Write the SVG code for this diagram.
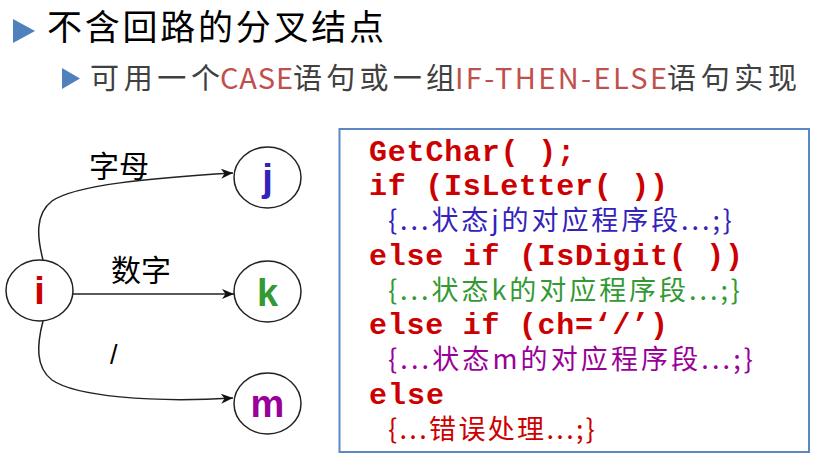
<svg xmlns="http://www.w3.org/2000/svg" width="838" height="460" viewBox="0 0 838 460">
<style>
.cjk{font-family:"Noto Sans CJK SC","Noto Sans",sans-serif}
.node ellipse{fill:#fff;stroke:#222;stroke-width:1.5}
.node text{font-family:"Liberation Sans",Arial,sans-serif;font-weight:bold;font-size:38px;text-anchor:middle}
.edge{fill:none;stroke:#222;stroke-width:1.5;marker-end:url(#arr)}
.code{font-family:"Liberation Mono","Courier New",monospace;font-weight:bold;font-size:30px;fill:#cc0000}
.cn{font-family:"Noto Sans CJK SC",sans-serif;font-size:27px}
</style>
<defs>
<marker id="arr" viewBox="0 0 12 10" refX="12" refY="5" markerWidth="12" markerHeight="10" markerUnits="userSpaceOnUse" orient="auto">
<path d="M0,0 L12,5 L0,10 L3.5,5 z" fill="#111"/>
</marker>
</defs>
<rect width="838" height="460" fill="#fff"/>
<g id="title">
<polygon points="13,19 13,43 35,31" fill="#4f81bd"/>
<text class="cjk" x="47" y="40" font-size="35" textLength="337" lengthAdjust="spacing" fill="#000">不含回路的分叉结点</text>
</g>
<g id="subtitle" class="cjk" font-size="29">
<polygon points="62,68 62,89 80,78.5" fill="#4f81bd"/>
<text x="90" y="89" fill="#404040" textLength="130" lengthAdjust="spacing">可用一个</text>
<text x="220" y="89" fill="#c0504d" textLength="73" lengthAdjust="spacing">CASE</text>
<text x="293" y="89" fill="#404040" textLength="162" lengthAdjust="spacing">语句或一组</text>
<text x="455" y="89" fill="#c0504d" textLength="212" lengthAdjust="spacing">IF-THEN-ELSE</text>
<text x="667" y="89" fill="#404040" textLength="130" lengthAdjust="spacing">语句实现</text>
</g>
<g id="connectors">
<path class="edge" d="M43,260 C37,237 35,214 52,201 C75,185 150,178 233,173"/>
<path class="edge" d="M73,294 L234,294"/>
<path class="edge" d="M43,321 C37,344 35,367 52,380 C75,396 150,403 233,398"/>
<text class="cjk" x="89" y="177" font-size="30" fill="#000">字母</text>
<text class="cjk" x="111" y="281" font-size="30" fill="#000">数字</text>
<text x="110" y="364" font-family="Liberation Sans,Arial,sans-serif" font-size="27" fill="#000">/</text>
</g>
<g id="node-i" class="node"><ellipse cx="39.5" cy="290.5" rx="33.5" ry="30.5"/><text x="39.5" y="303.5" fill="#cc0000">i</text></g>
<g id="node-j" class="node"><ellipse cx="267.5" cy="177.5" rx="33.5" ry="30.5"/><text x="267.5" y="190.5" fill="#3322bb">j</text></g>
<g id="node-k" class="node"><ellipse cx="267.5" cy="291.5" rx="33.5" ry="30.5"/><text x="267.5" y="305.5" fill="#339933">k</text></g>
<g id="node-m" class="node"><ellipse cx="267.5" cy="403.5" rx="33.5" ry="30.5"/><text x="267.5" y="417" fill="#990099">m</text></g>
<g id="codebox">
<rect x="339.5" y="129" width="469.5" height="323" fill="#fff" stroke="#5b87c6" stroke-width="2"/>
<text class="code" x="369" y="161" textLength="206" lengthAdjust="spacing">GetChar( );</text>
<text class="code" x="369" y="195" textLength="299" lengthAdjust="spacing">if (IsLetter( ))</text>
<text class="cn" x="388" y="230" fill="#3322bb" textLength="344" lengthAdjust="spacing">{...状态j的对应程序段...;}</text>
<text class="code" x="369" y="265" textLength="374" lengthAdjust="spacing">else if (IsDigit( ))</text>
<text class="cn" x="388" y="300" fill="#339933" textLength="352" lengthAdjust="spacing">{...状态k的对应程序段...;}</text>
<text class="code" x="369" y="334" textLength="299" lengthAdjust="spacing">else if (ch=‘/’)</text>
<text class="cn" x="388" y="369" fill="#990099" textLength="365" lengthAdjust="spacing">{...状态m的对应程序段...;}</text>
<text class="code" x="369" y="404" textLength="75" lengthAdjust="spacing">else</text>
<text class="cn" x="388" y="439" fill="#cc0000" textLength="207" lengthAdjust="spacing">{...错误处理...;}</text>
</g>
</svg>
